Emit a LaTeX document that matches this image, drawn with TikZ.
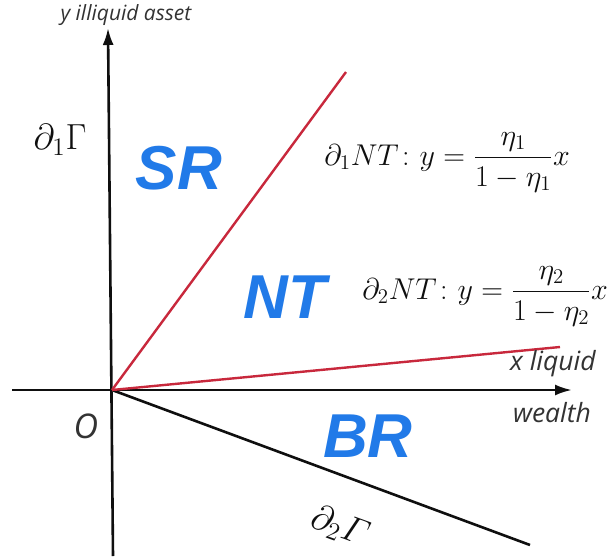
\RequirePackage{fix-cm}
\documentclass[tikz,border=0pt]{standalone}
\usepackage{amsmath}
\usepackage{fontspec}
\setsansfont{Open Sans}
\newfontfamily\regfont{Liberation Sans}
\usetikzlibrary{arrows.meta}
\definecolor{regblue}{RGB}{33,122,232}
\definecolor{bndred}{RGB}{200,40,60}
\definecolor{axisblack}{RGB}{15,15,15}
\begin{document}
\begin{tikzpicture}[x=1pt,y=-1pt,
  axisline/.style={draw=axisblack,line width=2.6pt,-{Latex[length=17pt,width=11pt]}},
  redline/.style={draw=bndred,line width=2.4pt},
  blackline/.style={draw=axisblack,line width=2.6pt},
  region/.style={text=regblue,font=\regfont\bfseries\itshape\fontsize{62}{66}\selectfont,inner sep=0pt},
  axlabel/.style={text=axisblack!85,font=\sffamily\itshape\fontsize{26.5}{31}\selectfont,inner sep=0pt},
  mathlabel/.style={text=axisblack,font=\huge,inner sep=0pt,transform shape}]
\useasboundingbox (0,0) rectangle (611,560);
\fill[white] (0,0) rectangle (611,560);
\coordinate (O) at (112,390);
\coordinate (ybot) at (113,556);
\coordinate (ytop) at (108,28);
\coordinate (xleft) at (12,390);
\coordinate (xright) at (572,390);
\coordinate (r1) at (346,72);
\coordinate (r2) at (560,347);
\coordinate (b1) at (530,545);
\draw[axisline] (ybot) -- (ytop);
\draw[axisline] (xleft) -- (xright);
\draw[blackline] (O) -- (b1);
\draw[redline] (O) -- (r1);
\draw[redline] (O) -- (r2);
\node[axlabel,font=\sffamily\itshape\fontsize{21}{25}\selectfont] (ylab) at (126,15) {y illiquid asset};
\node[axlabel] (xliq) at (553,364) {x liquid};
\node[axlabel] (wealth) at (552,413) {wealth};
\node[axlabel,font=\sffamily\itshape\fontsize{34}{40}\selectfont] (olab) at (86,426) {O};
\node[mathlabel,scale=1.75] (d1g) at (60,140) {$\partial_1\Gamma$};
\node[mathlabel,rotate=-20,scale=1.75] (d2g) at (340,527) {$\partial_2\varGamma$};
\node[region] (sr) at (179,168) {SR};
\node[region] (nt) at (285,297) {NT};
\node[region] (br) at (368,436) {BR};
\node[mathlabel,scale=1.45] (eq1) at (447,162) {$\partial_1 NT\colon y=\dfrac{\eta_1}{1-\eta_1}x$};
\node[mathlabel,scale=1.45] (eq2) at (485,296) {$\partial_2 NT\colon y=\dfrac{\eta_2}{1-\eta_2}x$};
\end{tikzpicture}
\end{document}
